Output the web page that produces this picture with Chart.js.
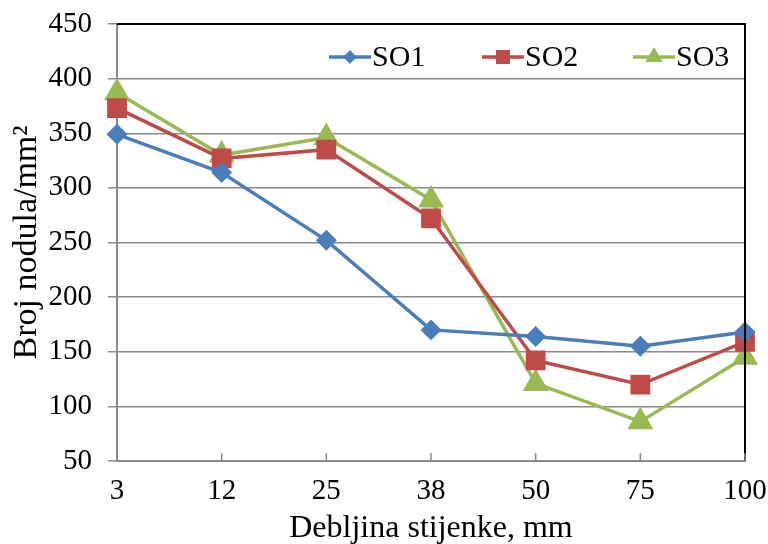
<!DOCTYPE html>
<html>
<head>
<meta charset="utf-8">
<script src="https://cdn.jsdelivr.net/npm/chart.js@4/dist/chart.umd.min.js"></script>
<style>
  html, body { margin:0; padding:0; background:#fff; }
  #wrap { width:768px; height:544px; }
</style>
</head>
<body>
<div id="wrap"><canvas id="c" width="768" height="544"></canvas></div>
<script>
// debljina stijenke (mm)
const categories = ['3', '12', '25', '38', '50', '75', '100'];
const so1 = [349, 314, 252, 170, 164, 155, 168];
const so2 = [373, 327, 335, 272, 142, 120, 159];
const so3 = [387, 330, 346, 289, 121, 86, 145];
const seriesNames = ['SO1', 'SO2', 'SO3'];

const serif = "'Liberation Serif', 'Times New Roman', serif";
const gridGray = '#8a8a8a';

// legenda unutar grafa (gore desno) + okvir + kratke crtice na x osi
const extras = {
    id: 'extras',
    afterDatasetsDraw(chart) {
        const ctx = chart.ctx;
        const a = chart.chartArea;
        ctx.save();
        // crni okvir gore i desno
        ctx.strokeStyle = '#000';
        ctx.lineWidth = 2;
        ctx.beginPath();
        ctx.moveTo(a.left, a.top);
        ctx.lineTo(a.right, a.top);
        ctx.lineTo(a.right, a.bottom);
        ctx.stroke();

        // crtice na x osi (prema unutra)
        const xs = chart.scales.x;
        ctx.strokeStyle = gridGray;
        ctx.lineWidth = 1.5;
        xs.ticks.forEach((t, i) => {
            const px = xs.getPixelForTick(i);
            ctx.beginPath();
            ctx.moveTo(px, a.bottom);
            ctx.lineTo(px, a.bottom - 8);
            ctx.stroke();
        });

        // legenda
        const startX = [a.left + 212, a.left + 365, a.left + 516];
        const y = a.top + 33;
        ctx.font = '30px ' + serif;
        ctx.textBaseline = 'middle';
        chart.data.datasets.forEach((ds, i) => {
            const x0 = startX[i];
            ctx.strokeStyle = ds.borderColor;
            ctx.fillStyle = ds.borderColor;
            ctx.lineWidth = ds.borderWidth;
            ctx.beginPath();
            ctx.moveTo(x0, y);
            ctx.lineTo(x0 + 42, y);
            ctx.stroke();
            ctx.lineWidth = 1;
            Chart.helpers.drawPoint(ctx, {
                pointStyle: ds.pointStyle,
                radius: ds.pointRadius * 0.8,
                borderWidth: 1
            }, x0 + 21, y);
            ctx.fillStyle = '#000';
            ctx.fillText(ds.label, x0 + 43, y + 1);
        });
        ctx.restore();
    }
};

function makeDs(label, data, color, style, r) {
    return {
        label: label,
        data: data,
        borderColor: color,
        backgroundColor: color,
        pointBackgroundColor: color,
        pointBorderColor: color,
        borderWidth: 3.5,
        pointStyle: style,
        pointRadius: r,
        pointHoverRadius: r,
        tension: 0
    };
}

new Chart(document.getElementById('c'), {
    type: 'line',
    data: {
        labels: categories,
        datasets: [
            makeDs(seriesNames[0], so1, '#4a7ebb', 'rectRot', 8),
            makeDs(seriesNames[1], so2, '#be4b48', 'rect', 11.5),
            makeDs(seriesNames[2], so3, '#98b954', 'triangle', 11.5)
        ]
    },
    options: {
        responsive: false,
        animation: false,
        layout: { padding: { top: 24, right: 23, left: 0, bottom: 0 } },
        plugins: { legend: { display: false }, tooltip: { enabled: false } },
        scales: {
            x: {
                afterFit: s => { s.height = 83; s.paddingLeft = 0; s.paddingRight = 0; },
                grid: { display: false, drawTicks: false },
                border: { display: true, color: gridGray, width: 2 },
                ticks: { color: '#000', font: { family: serif, size: 29 }, padding: 13, maxRotation: 0 },
                title: { display: true, text: 'Debljina stijenke, mm', color: '#000',
                         font: { family: serif, size: 32 }, padding: { top: 0, bottom: -4 } }
            },
            y: {
                min: 50, max: 450,
                afterFit: s => { s.width = 117; s.paddingTop = 0; s.paddingBottom = 0; },
                grid: { color: gridGray, lineWidth: 1.5, tickLength: 9, drawTicks: true },
                border: { display: true, color: gridGray, width: 2 },
                ticks: { stepSize: 50, color: '#000', font: { family: serif, size: 29 }, padding: 16 },
                title: { display: true, text: 'Broj nodula/mm²', color: '#000',
                         font: { family: serif, size: 34 }, padding: { top: 7, bottom: 0 } }
            }
        }
    },
    plugins: [extras]
});
</script>
</body>
</html>
